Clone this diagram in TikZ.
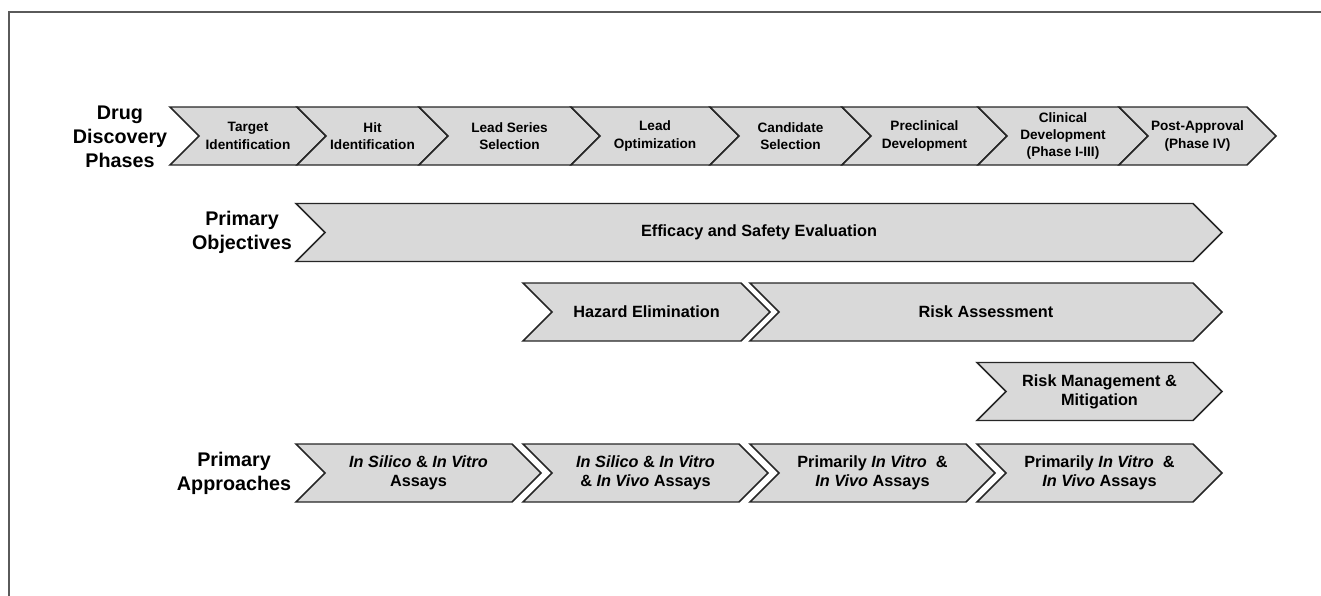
\documentclass[tikz,border=0pt]{standalone}
\usepackage{fontspec}
\setmainfont{Liberation Sans}
\usetikzlibrary{shapes.symbols}
\definecolor{ChevFill}{HTML}{D9D9D9}
\definecolor{ChevLine}{HTML}{262626}
\definecolor{FrameGray}{HTML}{5A5A5A}

\begin{document}
\begin{tikzpicture}[x=0.75pt, y=-0.75pt,
  every node/.style={inner sep=0pt, outer sep=0pt},
  chev/.style={signal, signal from=west, signal to=east, signal pointer angle=90, draw=ChevLine, fill=ChevFill, line width=1.1pt, minimum height=43.5pt, align=center},
  pnode/.style={chev, font=\bfseries\fontsize{10.2}{13}\selectfont},
  onode/.style={chev, font=\bfseries\fontsize{12.2}{14.3}\selectfont},
  lbl/.style={font=\bfseries\fontsize{14.8}{18}\selectfont, align=center}
]
  \useasboundingbox (0,0) rectangle (1321,596);
  \draw[FrameGray, line width=1.2pt] (9,596) -- (9,12) -- (1321,12);

  % Row labels
  \node[lbl] (phaselbl) at (120,137) {Drug\\Discovery\\Phases};
  \node[lbl] (objlbl) at (242,232) {Primary\\Objectives};
  \node[lbl] (applbl) at (234,473) {Primary\\Approaches};

  % Drug discovery phases
  \node[pnode, minimum width=117pt] (target) at (248,136) {Target\\Identification};
  \node[pnode, minimum width=113.25pt] (hit) at (372.5,136) {Hit\\Identification};
  \node[pnode, minimum width=135.75pt] (series) at (509.5,136) {Lead Series\\Selection};
  \node[pnode, minimum width=126pt] (leadopt) at (655,136) {Lead\\Optimization};
  \node[pnode, minimum width=120.75pt] (cand) at (790.5,136) {Candidate\\Selection};
  \node[pnode, minimum width=123.75pt] (precl) at (924.5,136) {Preclinical\\Development};
  \node[pnode, minimum width=127.5pt] (clin) at (1063,136) {Clinical\\Development\\(Phase I-III)};
  \node[pnode, minimum width=117.75pt] (post) at (1197.5,136) {Post-Approval\\(Phase IV)};

  % Primary objectives
  \node[onode, minimum width=694.5pt] (effic) at (759,232.5) {Efficacy and Safety Evaluation};
  \node[onode, minimum width=185.25pt] (hazard) at (646.5,312) {Hazard Elimination};
  \node[onode, minimum width=354pt] (riskass) at (986,312) {Risk Assessment};
  \node[onode, minimum width=183.75pt] (riskman) at (1099.5,391.5) {Risk Management \&\\Mitigation};

  % Primary approaches
  \node[onode, minimum width=183.75pt] (silico) at (418.5,473) {\textit{In Silico} \& \textit{In Vitro}\\Assays};
  \node[onode, minimum width=183.75pt] (silvivo) at (645.5,473) {\textit{In Silico} \& \textit{In Vitro}\\\& \textit{In Vivo} Assays};
  \node[onode, minimum width=183.75pt] (vitro) at (872.5,473) {Primarily \textit{In Vitro}~ \&\\\textit{In Vivo} Assays};
  \node[onode, minimum width=183.75pt] (vivo) at (1099.5,473) {Primarily \textit{In Vitro}~ \&\\\textit{In Vivo} Assays};
\end{tikzpicture}
\end{document}
